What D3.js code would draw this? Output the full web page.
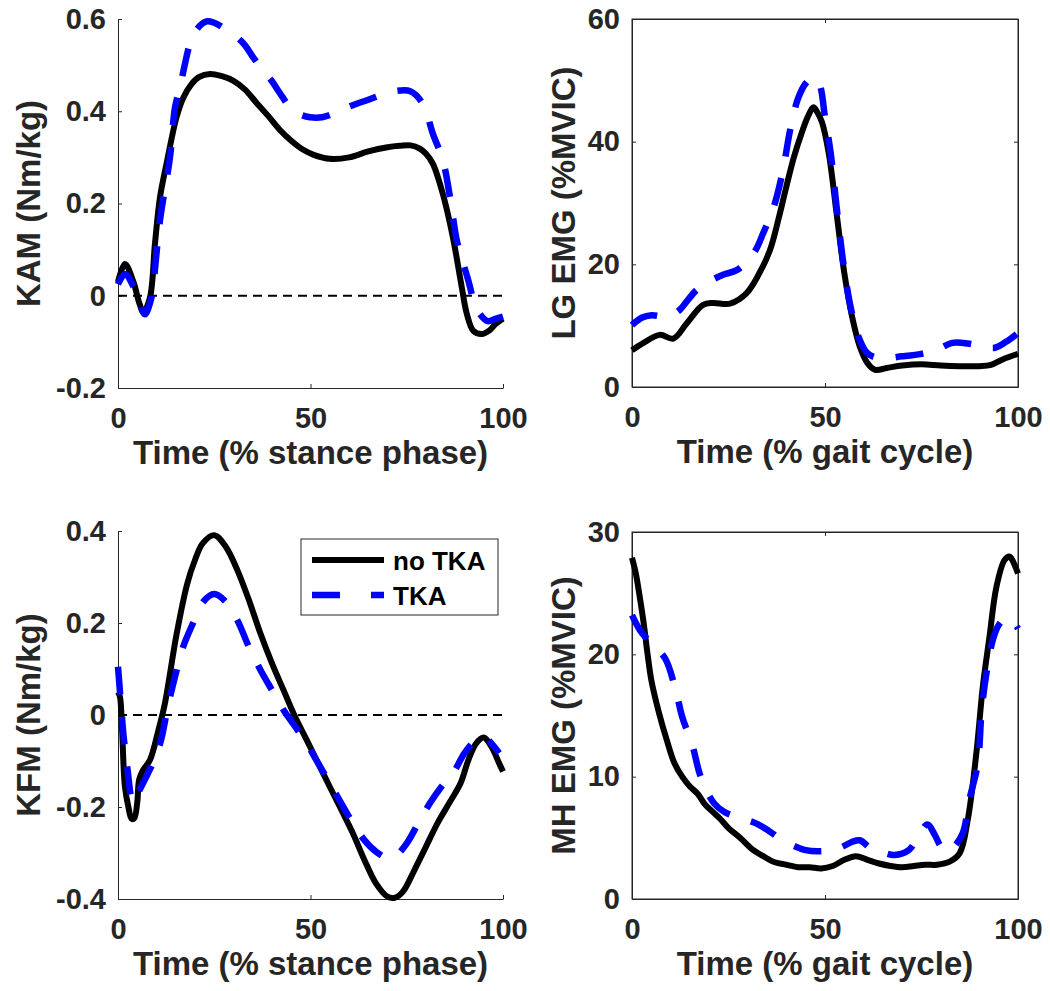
<!DOCTYPE html>
<html>
<head>
<meta charset="utf-8">
<script src="https://cdn.jsdelivr.net/npm/d3@7"></script>
<style>
  body { margin: 0; background: #ffffff; }
  text { font-family: "Liberation Sans", Arial, Helvetica, sans-serif; font-weight: bold; }
</style>
</head>
<body>
<div id="chart"></div>
<script>
// x ticks shared by all four panels
const timeTicks = [0, 50, 100]
const seriesNames = ["no TKA", "TKA"]

// KAM (top left)
const kamTicks = [-0.2, 0, 0.2, 0.4, 0.6]
const kamTimeNo = [0, 1.8, 4, 5.5, 6.6, 8.3, 9.6, 10.9, 12.6, 15.2, 17, 19.1, 21, 23.9, 27, 30, 33, 36, 39, 42, 45, 48, 51, 55, 60, 65, 70, 73.2, 76, 78.4, 80, 81.8, 84.4, 87, 89.3, 90.6, 92.3, 94.5, 96.5, 98, 100]
const kamNoTka = [0.03, 0.069, 0.03, -0.015, -0.036, -0.004, 0.113, 0.213, 0.286, 0.387, 0.43, 0.459, 0.474, 0.481, 0.476, 0.466, 0.447, 0.418, 0.39, 0.36, 0.336, 0.317, 0.305, 0.297, 0.30, 0.313, 0.322, 0.325, 0.326, 0.319, 0.308, 0.286, 0.22, 0.126, 0.018, -0.039, -0.076, -0.083, -0.075, -0.062, -0.05]
const kamTimeTka = [0, 1.8, 4, 5.5, 7, 8.5, 9.2, 10.9, 13.5, 14.8, 16.1, 17.4, 18.7, 20.5, 23, 25, 27.5, 30.4, 33, 35.1, 37.5, 39.9, 42, 44.7, 47, 49.9, 53, 56, 60, 65, 70, 73.2, 76, 79.2, 81.8, 84.4, 86.5, 88, 91, 92.7, 94, 96, 98, 100]
const kamTka = [0.025, 0.047, 0.02, -0.01, -0.04, -0.01, 0.026, 0.163, 0.30, 0.408, 0.452, 0.503, 0.546, 0.578, 0.595, 0.592, 0.58, 0.564, 0.543, 0.517, 0.49, 0.466, 0.44, 0.408, 0.394, 0.387, 0.387, 0.395, 0.41, 0.425, 0.44, 0.445, 0.443, 0.416, 0.351, 0.293, 0.20, 0.12, 0.033, -0.02, -0.04, -0.055, -0.05, -0.045]

// LG EMG (top right)
const lgTicks = [0, 20, 40, 60]
const lgTimeNo = [0, 3, 7.2, 10.7, 14.2, 18.4, 21, 25.4, 29.7, 34, 36, 38, 40, 42, 44, 45.5, 47, 48, 49.2, 51, 53, 55, 57, 59, 61, 63, 66, 70, 75, 80, 85, 90, 93, 96, 100]
const lgNoTka = [6.0, 7.2, 8.5, 7.9, 10.4, 13.4, 13.7, 13.6, 15.3, 19.8, 22.8, 27.5, 32.7, 37.6, 41.5, 44, 45.6, 44.8, 43.2, 38, 28.3, 18.6, 11.5, 6.6, 3.9, 2.8, 3.1, 3.5, 3.7, 3.5, 3.4, 3.4, 3.6, 4.5, 5.4]
const lgTimeTka = [0, 2.5, 5.1, 8, 10.5, 12.4, 14.5, 16.7, 20, 23.6, 27, 29.7, 32, 34, 36.6, 39, 41, 43, 45, 47, 48.5, 50, 51.5, 53, 55, 57, 59, 61, 64, 70, 75, 79, 83, 87, 91, 94, 97, 100]
const lgTka = [10.1, 11.3, 11.7, 11.5, 11.8, 12.6, 14.2, 15.8, 17.2, 18.3, 19.0, 20.4, 22.3, 25.1, 29.1, 35, 42, 47, 49.5, 50.5, 49.5, 44, 38, 29.4, 19.1, 12, 7.7, 5.5, 4.7, 5.0, 5.4, 6.1, 7.2, 7.1, 6.6, 6.4, 7.4, 8.8]

// KFM (bottom left)
const kfmTicks = [-0.4, -0.2, 0, 0.2, 0.4]
const kfmTimeNo = [0, 0.5, 1, 1.8, 2.7, 3.5, 4.2, 5, 5.5, 6.5, 8.3, 10.5, 12.2, 15.2, 18, 20, 22, 25, 28, 31, 34, 37, 40, 43, 46, 49, 52, 55, 58, 61, 64, 67, 70, 72, 74, 77, 80, 83, 86, 89, 91, 93, 95, 97, 99, 100]
const kfmNoTka = [0.05, 0.04, -0.02, -0.156, -0.2, -0.225, -0.225, -0.19, -0.14, -0.12, -0.098, -0.033, 0.026, 0.175, 0.286, 0.337, 0.373, 0.391, 0.366, 0.315, 0.25, 0.177, 0.112, 0.054, -0.004, -0.054, -0.105, -0.156, -0.206, -0.257, -0.315, -0.366, -0.395, -0.397, -0.384, -0.337, -0.286, -0.235, -0.192, -0.148, -0.098, -0.062, -0.049, -0.069, -0.105, -0.123]
const kfmTimeTka = [0, 0.8, 1.5, 2.5, 3.5, 4.2, 5.5, 7, 9, 11, 13, 15, 17, 19.5, 22, 25, 28, 31, 34, 37, 40, 43, 46, 49, 52, 55, 58, 61, 64, 67, 70, 72, 75, 78, 81, 84, 87, 90, 93, 95, 97, 99]
const kfmTka = [0.105, 0.02, -0.05, -0.12, -0.18, -0.19, -0.165, -0.14, -0.105, -0.06, 0.02, 0.09, 0.15, 0.2, 0.245, 0.263, 0.246, 0.206, 0.148, 0.098, 0.054, 0.011, -0.025, -0.062, -0.105, -0.148, -0.192, -0.235, -0.272, -0.297, -0.311, -0.307, -0.279, -0.235, -0.192, -0.156, -0.127, -0.083, -0.054, -0.047, -0.062, -0.083]

// MH EMG (bottom right)
const mhTicks = [0, 10, 20, 30]
const mhTimeNo = [0, 1, 2, 3, 4, 5, 7, 9, 11, 13, 15, 17, 19, 21, 23, 25, 28, 31, 34, 37, 40, 43, 46, 49, 52, 55, 58, 61, 64, 67, 70, 73, 76, 79, 82.3, 84.9, 87, 89.2, 90.9, 92.6, 94.4, 96.5, 97.8, 99, 100]
const mhNoTka = [27.9, 26.6, 24.7, 22.6, 20.1, 17.9, 15.2, 13.0, 11.1, 10.0, 9.2, 8.6, 7.7, 7.1, 6.5, 5.8, 5.0, 4.1, 3.5, 3.0, 2.8, 2.6, 2.6, 2.5, 2.7, 3.2, 3.5, 3.2, 2.9, 2.7, 2.6, 2.7, 2.8, 2.8, 3.05, 3.75, 6.5, 11.9, 17.4, 21.4, 25.5, 27.7, 28.0, 27.4, 26.6]
const mhTimeTka = [0, 2, 3.8, 6, 8.7, 11.3, 13, 15.7, 17.8, 21.3, 24, 28.3, 32, 35.3, 38.5, 42.3, 45, 48, 51, 54, 57.2, 59, 62, 65, 68, 71.7, 74, 76.5, 78.5, 80, 81.7, 83.5, 85.7, 87.4, 89.6, 90.6, 92.1, 93.5, 95, 97, 98.5, 100]
const mhTka = [23.2, 22.0, 21.3, 20.6, 19.6, 17.1, 14.9, 12.5, 10.0, 7.8, 7.1, 6.6, 6.2, 5.6, 4.9, 4.3, 4.0, 3.9, 3.95, 4.2, 4.7, 4.8, 4.1, 3.8, 3.6, 4.0, 5.0, 6.1, 5.2, 4.3, 3.9, 4.3, 5.4, 8.1, 11.1, 15.5, 19.0, 21.2, 22.4, 23.0, 22.8, 22.1]

const width = 1050
const height = 991
const axisColor = "#262626"

let svg = d3.select("#chart")
  .append("svg")
  .attr("width", width)
  .attr("height", height)

// layout per panel, in pixels
var panels = [
  { left: 118, right: 503, top: 19, bottom: 388, yDomain: [-0.2, 0.6], yTicks: kamTicks, box: false, zero: true,
    ylabel: "KAM (Nm/kg)", ylabelX: 40, xlabel: "Time (% stance phase)",
    series: [[kamTimeNo, kamNoTka], [kamTimeTka, kamTka]] },
  { left: 632, right: 1018, top: 19, bottom: 387, yDomain: [0, 60], yTicks: lgTicks, box: true, zero: false,
    ylabel: "LG EMG (%MVIC)", ylabelX: 575, xlabel: "Time (% gait cycle)",
    series: [[lgTimeNo, lgNoTka], [lgTimeTka, lgTka]] },
  { left: 118, right: 503, top: 531, bottom: 899, yDomain: [-0.4, 0.4], yTicks: kfmTicks, box: false, zero: true,
    ylabel: "KFM (Nm/kg)", ylabelX: 40, xlabel: "Time (% stance phase)", legend: true,
    series: [[kfmTimeNo, kfmNoTka], [kfmTimeTka, kfmTka]] },
  { left: 632, right: 1018, top: 532, bottom: 899, yDomain: [0, 30], yTicks: mhTicks, box: true, zero: false,
    ylabel: "MH EMG (%MVIC)", ylabelX: 575, xlabel: "Time (% gait cycle)",
    series: [[mhTimeNo, mhNoTka], [mhTimeTka, mhTka]] }
]

const lineStyles = [
  { color: "#000000", width: 6, dash: null },
  { color: "#0000ff", width: 6.5, dash: "28,22" }
]

function styleAxis(g, showLabels) {
  g.select(".domain").attr("stroke", axisColor).attr("stroke-width", 1)
  g.selectAll(".tick line").attr("stroke", axisColor).attr("stroke-width", 1)
  g.selectAll(".tick text")
    .attr("fill", axisColor)
    .style("font-size", "29px")
  if (!showLabels) g.selectAll(".tick text").remove()
}

panels.forEach((p) => {
  let x = d3.scaleLinear().domain([0, 100]).range([p.left, p.right])
  let y = d3.scaleLinear().domain(p.yDomain).range([p.bottom, p.top])
  let g = svg.append("g")

  if (p.box) {
    g.append("rect")
      .attr("x", p.left).attr("y", p.top)
      .attr("width", p.right - p.left).attr("height", p.bottom - p.top)
      .attr("fill", "none")
      .attr("stroke", axisColor)
      .attr("stroke-width", 1)
    // mirrored ticks on top and right
    g.append("g")
      .attr("transform", "translate(0," + p.top + ")")
      .call(d3.axisTop(x).tickValues(timeTicks).tickSizeInner(-4).tickSizeOuter(0).tickFormat(""))
      .call(a => styleAxis(a, false))
    g.append("g")
      .attr("transform", "translate(" + p.right + ",0)")
      .call(d3.axisRight(y).tickValues(p.yTicks).tickSizeInner(-4).tickSizeOuter(0).tickFormat(""))
      .call(a => styleAxis(a, false))
  }

  g.append("g")
    .attr("transform", "translate(0," + p.bottom + ")")
    .call(d3.axisBottom(x).tickValues(timeTicks).tickSizeInner(-4).tickSizeOuter(0).tickFormat(d => String(d)))
    .call(a => styleAxis(a, true))
    .selectAll(".tick text").attr("dy", "0.71em").attr("y", 19)

  g.append("g")
    .attr("transform", "translate(" + p.left + ",0)")
    .call(d3.axisLeft(y).tickValues(p.yTicks).tickSizeInner(-4).tickSizeOuter(0).tickPadding(12).tickFormat(d => String(d)))
    .call(a => styleAxis(a, true))

  if (p.zero) {
    g.append("line")
      .attr("x1", x(0)).attr("x2", x(100))
      .attr("y1", y(0)).attr("y2", y(0))
      .attr("stroke", "#000000")
      .attr("stroke-width", 1.8)
      .attr("stroke-dasharray", "9,6")
  }

  let line = d3.line()
    .x(d => x(d[0]))
    .y(d => y(d[1]))
    .curve(d3.curveCatmullRom.alpha(0.5))

  p.series.forEach((s, i) => {
    let pts = s[0].map((t, k) => [t, s[1][k]])
    g.append("path")
      .datum(pts)
      .attr("d", line)
      .attr("fill", "none")
      .attr("stroke", lineStyles[i].color)
      .attr("stroke-width", lineStyles[i].width)
      .attr("stroke-linejoin", "round")
      .attr("stroke-dasharray", lineStyles[i].dash)
  })

  // axis labels
  g.append("text")
    .attr("x", (p.left + p.right) / 2)
    .attr("y", p.bottom + 76)
    .attr("text-anchor", "middle")
    .attr("fill", axisColor)
    .style("font-size", "33px")
    .text(p.xlabel)

  g.append("text")
    .attr("transform", "translate(" + p.ylabelX + "," + (p.top + p.bottom) / 2 + ") rotate(-90)")
    .attr("text-anchor", "middle")
    .attr("fill", axisColor)
    .style("font-size", "33px")
    .text(p.ylabel)

  if (p.legend) {
    let legend = g.append("g").attr("transform", "translate(301,539)")
    legend.append("rect")
      .attr("width", 197).attr("height", 76)
      .attr("fill", "#ffffff")
      .attr("stroke", axisColor)
      .attr("stroke-width", 1)
    seriesNames.forEach((name, i) => {
      var row = legend.append("g").attr("transform", "translate(0," + (21 + i * 35) + ")")
      row.append("line")
        .attr("x1", 11).attr("x2", 83)
        .attr("stroke", lineStyles[i].color)
        .attr("stroke-width", lineStyles[i].width)
        .attr("stroke-dasharray", i == 1 ? "28,31" : null)
      row.append("text")
        .attr("x", 92)
        .attr("y", 10)
        .attr("fill", "#000000")
        .style("font-size", "26px")
        .text(name)
    })
  }
})
</script>
</body>
</html>
